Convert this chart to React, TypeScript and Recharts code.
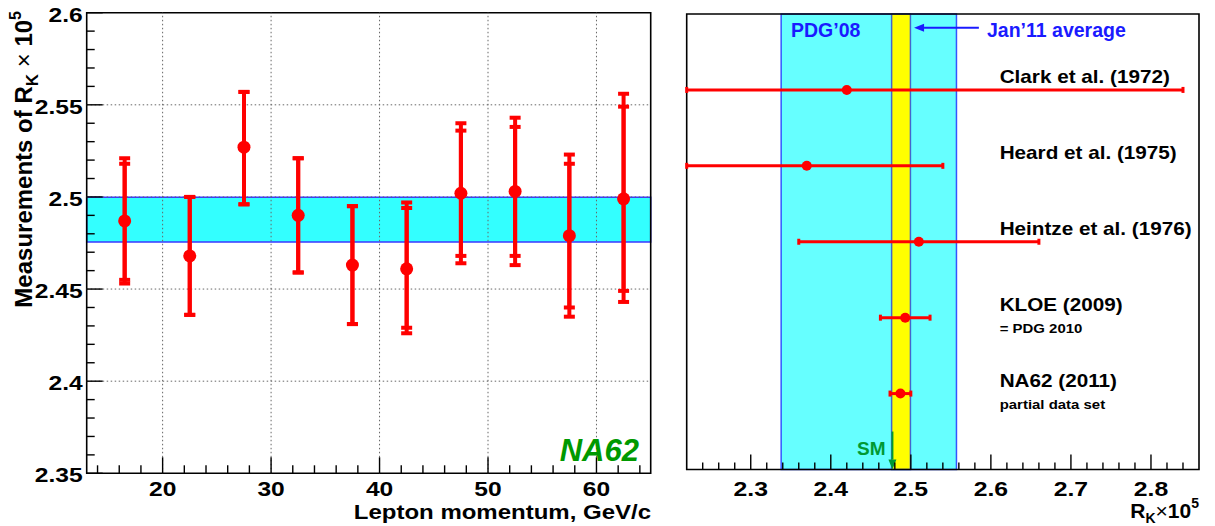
import React from "react";
import {
  ComposedChart,
  Scatter,
  ErrorBar,
  XAxis,
  YAxis,
  ReferenceArea,
  ReferenceLine,
} from "recharts";

const FONT = '"Liberation Sans", Arial, Helvetica, sans-serif';
const RED = "#ff0000";

// ---- left panel: R_K in bins of lepton momentum ----
const momentumBins = [16.5, 22.5, 27.5, 32.5, 37.5, 42.5, 47.5, 52.5, 57.5, 62.5];
const rkValues = [2.487, 2.468, 2.527, 2.49, 2.463, 2.461, 2.502, 2.503, 2.479, 2.499];
const statErrLo = [0.032, 0.032, 0.031, 0.031, 0.032, 0.032, 0.034, 0.035, 0.039, 0.05];
const statErrHi = [0.031, 0.032, 0.03, 0.031, 0.032, 0.033, 0.034, 0.035, 0.039, 0.05];
const totErrLo = [0.034, 0.032, 0.031, 0.031, 0.032, 0.035, 0.038, 0.04, 0.044, 0.056];
const totErrHi = [0.034, 0.032, 0.03, 0.031, 0.032, 0.036, 0.038, 0.04, 0.044, 0.057];
const avgBand = [2.4755, 2.4998];

const leftXMajor = [20, 30, 40, 50, 60];
const leftXTicks = [14, 16, 18, 20, 22, 24, 26, 28, 30, 32, 34, 36, 38, 40, 42, 44, 46, 48, 50, 52, 54, 56, 58, 60, 62, 64];
const leftYMajor = [2.35, 2.4, 2.45, 2.5, 2.55, 2.6];
const leftYTicks = [
  2.35, 2.36, 2.37, 2.38, 2.39, 2.4, 2.41, 2.42, 2.43, 2.44, 2.45, 2.46, 2.47,
  2.48, 2.49, 2.5, 2.51, 2.52, 2.53, 2.54, 2.55, 2.56, 2.57, 2.58, 2.59, 2.6,
];
const leftGridY = [2.4, 2.45, 2.5, 2.55];

// ---- right panel: world data ----
const experiments = ["Clark et al. (1972)", "Heard et al. (1975)", "Heintze et al. (1976)", "KLOE (2009)", "NA62 (2011)"];
const expNotes = ["", "", "", "= PDG 2010", "partial data set"];
const expValues = [2.42, 2.37, 2.51, 2.493, 2.487];
const expErrors = [0.42, 0.17, 0.15, 0.031, 0.013];
const expRows = [5, 4, 3, 2, 1];
const pdg08Band = [2.338, 2.557];
const jan11Band = [2.476, 2.4995];
const smValue = 2.477;

const rightDomain = [2.22, 2.86];
const rightXMajor = [2.3, 2.4, 2.5, 2.6, 2.7, 2.8];
const rightXTicks = [
  2.24, 2.26, 2.28, 2.3, 2.32, 2.34, 2.36, 2.38, 2.4, 2.42, 2.44, 2.46, 2.48, 2.5, 2.52,
  2.54, 2.56, 2.58, 2.6, 2.62, 2.64, 2.66, 2.68, 2.7, 2.72, 2.74, 2.76, 2.78, 2.8, 2.82, 2.84,
];

const LABEL_X = 2.611;

const leftData = momentumBins.map((x, i) => ({
  x,
  y: rkValues[i],
  stat: [statErrLo[i], statErrHi[i]],
  tot: [totErrLo[i], totErrHi[i]],
}));

// error bars leaving the frame are cut at the frame edge
const rightData = expValues.map((x, i) => ({
  x,
  y: expRows[i],
  err: [Math.min(expErrors[i], x - rightDomain[0]), Math.min(expErrors[i], rightDomain[1] - x)],
}));
const labelData = experiments.map((name, i) => ({ x: LABEL_X, y: expRows[i], name, note: expNotes[i] }));

function SText({ x, y, size, sx = 1, anchor = "start", fill = "#000", weight = "bold", italic = false, children }: any) {
  return (
    <text
      transform={`translate(${x},${y}) scale(${sx},1)`}
      fontSize={size}
      fontFamily={FONT}
      fontWeight={weight}
      fontStyle={italic ? "italic" : "normal"}
      fill={fill}
      textAnchor={anchor}
    >
      {children}
    </text>
  );
}

const LeftXTick = (p: any) => {
  const major = leftXMajor.includes(p.payload.value);
  return (
    <g>
      <line x1={p.x} x2={p.x} y1={p.y} y2={p.y - (major ? 16 : 8)} stroke="#000" strokeWidth={1.4} />
      {major && (
        <SText x={p.x} y={p.y + 23} size={20.5} sx={1.2} anchor="middle">
          {p.payload.value}
        </SText>
      )}
    </g>
  );
};

const LeftYTick = (p: any) => {
  const major = leftYMajor.includes(p.payload.value);
  return (
    <g>
      <line x1={p.x} x2={p.x + (major ? 16 : 8)} y1={p.y} y2={p.y} stroke="#000" strokeWidth={1.4} />
      {major && (
        <SText x={p.x - 4} y={p.y + 9} size={20.5} sx={1.2} anchor="end">
          {String(p.payload.value)}
        </SText>
      )}
    </g>
  );
};

const RightXTick = (p: any) => {
  const major = rightXMajor.includes(p.payload.value);
  return (
    <g>
      <line x1={p.x} x2={p.x} y1={p.y} y2={p.y - (major ? 15 : 7)} stroke="#000" strokeWidth={1.4} />
      {major && (
        <SText x={p.x} y={p.y + 26} size={21} sx={1.18} anchor="middle">
          {String(p.payload.value)}
        </SText>
      )}
    </g>
  );
};

const makeArrow = (color: string) => (p: any) => {
  const { x1, y1, x2, y2 } = p;
  const dx = x2 - x1;
  const dy = y2 - y1;
  const len = Math.hypot(dx, dy) || 1;
  const ux = dx / len;
  const uy = dy / len;
  const hl = 10;
  const hw = 4;
  const bx = x2 - ux * hl;
  const by = y2 - uy * hl;
  return (
    <g>
      <line x1={x1} y1={y1} x2={bx} y2={by} stroke={color} strokeWidth={2} />
      <polygon
        points={`${x2},${y2} ${bx - uy * hw},${by + ux * hw} ${bx + uy * hw},${by - ux * hw}`}
        fill={color}
      />
    </g>
  );
};

function LeftPanel() {
  return (
    <ComposedChart width={660} height={526} margin={{ top: 12.7, right: 9.3, left: 0, bottom: 0 }}>
      <XAxis
        type="number"
        dataKey="x"
        domain={[13, 65]}
        allowDataOverflow
        ticks={leftXTicks}
        interval={0}
        tickSize={0}
        tickMargin={0}
        tickLine={false}
        axisLine={false}
        height={52.7}
        tick={(p: any) => <LeftXTick {...p} />}
      />
      <YAxis
        type="number"
        dataKey="y"
        domain={[2.35, 2.6]}
        allowDataOverflow
        ticks={leftYTicks}
        interval={0}
        tickSize={0}
        tickMargin={0}
        tickLine={false}
        axisLine={false}
        width={86.7}
        tick={(p: any) => <LeftYTick {...p} />}
      />
      {leftXMajor.map((v) => (
        <ReferenceLine key={"gx" + v} x={v} stroke="#666" strokeDasharray="1.5 2.5" strokeWidth={1} />
      ))}
      {leftGridY.map((v) => (
        <ReferenceLine key={"gy" + v} y={v} stroke="#666" strokeDasharray="1.5 2.5" strokeWidth={1} />
      ))}
      <ReferenceArea y1={avgBand[0]} y2={avgBand[1]} fill="#33ffff" fillOpacity={1} stroke="#3a3aff" strokeWidth={1.5} />
      <Scatter
        data={leftData}
        isAnimationActive={false}
        shape={(p: any) => <circle cx={p.cx} cy={p.cy} r={6.5} fill={RED} />}
      >
        <ErrorBar dataKey="tot" direction="y" width={5.5} strokeWidth={4} stroke={RED} isAnimationActive={false} />
        <ErrorBar dataKey="stat" direction="y" width={5.5} strokeWidth={4} stroke={RED} isAnimationActive={false} />
      </Scatter>
      <ReferenceArea x1={13} x2={65} y1={2.35} y2={2.6} fill="none" stroke="#000" strokeWidth={1.6} />
    </ComposedChart>
  );
}

function RightPanel() {
  return (
    <ComposedChart width={555} height={526} margin={{ top: 14, right: 16, left: 26.7, bottom: 0 }}>
      <XAxis
        type="number"
        dataKey="x"
        domain={rightDomain}
        allowDataOverflow
        ticks={rightXTicks}
        interval={0}
        tickSize={0}
        tickMargin={0}
        tickLine={false}
        axisLine={false}
        height={56.5}
        tick={(p: any) => <RightXTick {...p} />}
      />
      <YAxis type="number" dataKey="y" domain={[0, 6]} allowDataOverflow hide />
      <ReferenceArea x1={pdg08Band[0]} x2={pdg08Band[1]} fill="#66ffff" fillOpacity={1} stroke="#3355ff" strokeWidth={1.5} />
      <ReferenceArea x1={jan11Band[0]} x2={jan11Band[1]} fill="#ffff00" fillOpacity={1} stroke="#4466cc" strokeWidth={1.5} />
      <Scatter
        data={rightData}
        isAnimationActive={false}
        shape={(p: any) => <circle cx={p.cx} cy={p.cy} r={5} fill={RED} />}
      >
        <ErrorBar dataKey="err" direction="x" width={3} strokeWidth={3} stroke={RED} isAnimationActive={false} />
      </Scatter>
      <Scatter
        data={labelData}
        isAnimationActive={false}
        shape={(p: any) => (
          <g>
            <SText x={p.cx} y={p.cy - 7} size={18} sx={1.15}>
              {p.payload.name}
            </SText>
            {p.payload.note && (
              <SText x={p.cx} y={p.cy + 15} size={13} sx={1.15}>
                {p.payload.note}
              </SText>
            )}
          </g>
        )}
      />
      <ReferenceLine
        segment={[{ x: 2.585, y: 5.82 }, { x: 2.504, y: 5.82 }]}
        shape={makeArrow("#1a1aff")}
      />
      <ReferenceLine
        segment={[{ x: smValue, y: 0.5 }, { x: smValue, y: 0 }]}
        shape={makeArrow("#009933")}
      />
      <ReferenceArea x1={rightDomain[0]} x2={rightDomain[1]} y1={0} y2={6} fill="none" stroke="#000" strokeWidth={1.6} />
    </ComposedChart>
  );
}

export default function App() {
  return (
    <div style={{ position: "absolute", left: 0, top: 0, width: 1215, height: 526, background: "#fff" }}>
      <div style={{ position: "absolute", left: 0, top: 0 }}>
        <LeftPanel />
      </div>
      <div style={{ position: "absolute", left: 660, top: 0 }}>
        <RightPanel />
      </div>
      <svg width={1215} height={526} style={{ position: "absolute", left: 0, top: 0, pointerEvents: "none" }}>
        <text transform="translate(32,11) rotate(-90)" textAnchor="end" fontSize={24} fontFamily={FONT} fontWeight="bold">
          Measurements of R<tspan dy={6} fontSize={17}>K</tspan>
          <tspan dy={-6} fontWeight="normal"> {"\u00d7"} </tspan>10
          <tspan dy={-11} fontSize={16}>5</tspan>
        </text>
        <SText x={651} y={519} size={20} sx={1.2} anchor="end">
          Lepton momentum, GeV/c
        </SText>
        <SText x={639} y={461} size={31} fill="#009900" italic anchor="end">
          NA62
        </SText>
        <SText x={791} y={37} size={19.5} fill="#1a1aff">
          PDG{"\u2019"}08
        </SText>
        <SText x={987} y={37} size={19.5} fill="#1a1aff">
          Jan{"\u2019"}11 average
        </SText>
        <SText x={857} y={455} size={19} fill="#009933">
          SM
        </SText>
        <text x={1199} y={518} textAnchor="end" fontSize={21} fontFamily={FONT} fontWeight="bold">
          R<tspan dy={5} fontSize={14}>K</tspan>
          <tspan dy={-5} fontWeight="normal">{"\u00d7"}</tspan>10
          <tspan dy={-10} fontSize={14}>5</tspan>
        </text>
      </svg>
    </div>
  );
}
